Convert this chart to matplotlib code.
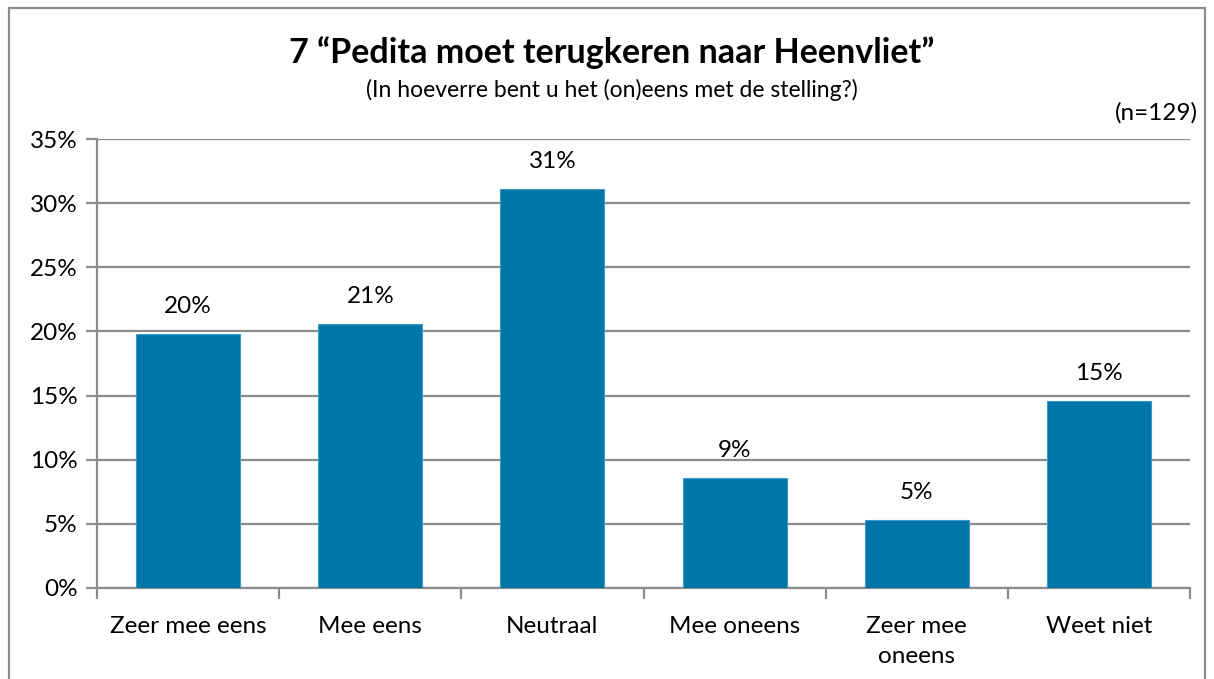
import matplotlib
matplotlib.use("Agg")
import matplotlib.pyplot as plt
from matplotlib.ticker import FuncFormatter, FixedLocator, NullFormatter
from matplotlib.patches import Rectangle

categories = ["Zeer mee eens", "Mee eens", "Neutraal", "Mee oneens", "Zeer mee\noneens", "Weet niet"]
values = [19.8, 20.6, 31.1, 8.6, 5.3, 14.6]
labels = ["20%", "21%", "31%", "9%", "5%", "15%"]
title = "7 \u201cPedita moet terugkeren naar Heenvliet\u201d"
subtitle = "(In hoeverre bent u het (on)eens met de stelling?)"
n_text = "(n=129)"

plt.rcParams['font.family'] = ['Lato', 'DejaVu Sans']

fig = plt.figure(figsize=(12.14, 6.79), dpi=100)
ax = fig.add_axes([97/1214, 1-588/679, (1190-97)/1214, (588-139)/679])

bar_color = '#0076A8'
grid_color = '#8C8C8C'
fs = 17.5
x = list(range(len(categories)))
ax.bar(x, values, width=0.57, color=bar_color, edgecolor='#3A9AC8', linewidth=0.8, zorder=3)

ax.set_xlim(-0.5, len(categories) - 0.5)
ax.set_ylim(0, 35)
ax.set_yticks(range(0, 36, 5))
ax.yaxis.set_major_formatter(FuncFormatter(lambda v, p: f"{int(v)}%"))
ax.yaxis.grid(True, color=grid_color, linewidth=1.6, zorder=0)
ax.set_axisbelow(True)

ax.xaxis.set_major_locator(FixedLocator([i - 0.5 for i in range(len(categories) + 1)]))
ax.xaxis.set_major_formatter(NullFormatter())
ax.xaxis.set_minor_locator(FixedLocator(x))
ax.set_xticklabels(categories, minor=True, linespacing=1.55)
ax.tick_params(axis='x', which='minor', length=0, labelsize=fs, pad=20)
ax.tick_params(axis='x', which='major', length=8, width=1.6, color=grid_color)
ax.tick_params(axis='y', length=8, width=1.6, color=grid_color, labelsize=fs, pad=6)

for s in ['top', 'right']:
    ax.spines[s].set_visible(False)
for s in ['left', 'bottom']:
    ax.spines[s].set_color(grid_color)
    ax.spines[s].set_linewidth(1.6)

for xi, v, lab in zip(x, values, labels):
    ax.annotate(lab, (xi, v), xytext=(0, 12), textcoords='offset points',
                ha='center', va='bottom', fontsize=fs)

fig.text(612/1214, 1-53/679, title, ha='center', va='center', fontsize=24.5, fontweight='bold')
fig.text(612/1214, 1-90/679, subtitle, ha='center', va='center', fontsize=16.5)
fig.text(1198/1214, 1-113/679, n_text, ha='right', va='center', fontsize=fs)

fig.patches.append(Rectangle((9/1214, -0.05), (1205-9)/1214, 1 - 8/679 + 0.05,
                             transform=fig.transFigure, fill=False,
                             edgecolor='#8C8C8C', linewidth=1.6))

fig.savefig("out.png", dpi=100)
